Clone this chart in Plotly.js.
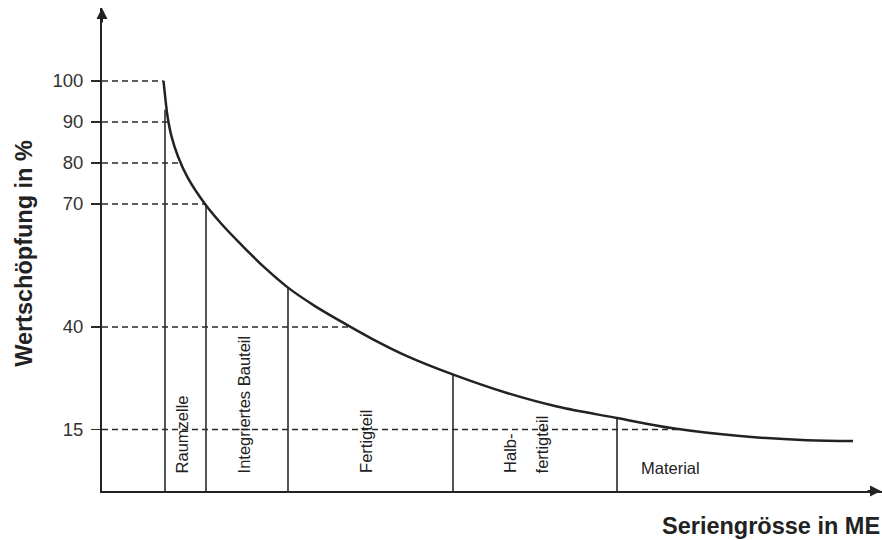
<!DOCTYPE html>
<html><head><meta charset="utf-8">
<script src="https://cdn.plot.ly/plotly-3.0.1.min.js"></script>
<style>html,body{margin:0;padding:0;background:#fff}</style>
</head><body>
<div id="chart" style="width:882px;height:540px"></div>
<script>
// Value-added curve (series size on x, arbitrary units; value added in %)
const curveX = [61.5, 63.5, 65.5, 69.5, 76, 86, 103, 120, 140, 163, 186, 213, 238, 271, 305, 350, 405, 455, 515, 571, 638, 705, 751];
const curveY = [100, 95.4, 91.4, 86.5, 81.6, 76.3, 70, 65, 59.9, 54.4, 49.6, 45.1, 41.5, 37, 32.9, 28.5, 23.9, 20.6, 17.8, 15.3, 13.4, 12.4, 12.2];
// Reference levels (y tick labels) and where each dashed line meets the curve
const tickValues = [100, 90, 80, 70, 40, 15];
const dashEndX = [61.5, 66.5, 79, 103, 248, 578];
// Boundaries between product stages and the curve height there
const boundaryX = [63, 104, 186, 351, 515];
const boundaryTop = [93, 69.8, 49.6, 28.5, 17.8];
// Stage labels
const stageLabels = ['Raumzelle', 'Integriertes Bauteil', 'Fertigteil', 'Halb-', 'fertigteil', 'Material'];
const yTitle = 'Wertschöpfung in %';
const xTitle = 'Seriengrösse in ME';

const FONT = 'Liberation Sans, Arial, Helvetica, sans-serif';
const INK = '#222';

const dX = [], dY = [];
tickValues.forEach((v, i) => { dX.push(0, dashEndX[i], null); dY.push(v, v, null); });
const bX = [], bY = [];
boundaryX.forEach((x, i) => { bX.push(x, x, null); bY.push(0, boundaryTop[i], null); });

const traces = [
  {x: dX, y: dY, mode: 'lines', line: {color: '#2a2a2a', width: 1.4, dash: '6px,4px'}, hoverinfo: 'skip', showlegend: false},
  {x: bX, y: bY, mode: 'lines', line: {color: '#2a2a2a', width: 1.6}, hoverinfo: 'skip', showlegend: false},
  {x: curveX, y: curveY, mode: 'lines', line: {color: INK, width: 2.5, shape: 'spline', smoothing: 1}, hoverinfo: 'skip', showlegend: false}
];

const labelPos = [
  {x: 80, y: 3.8, a: -90},
  {x: 142, y: 3.8, a: -90},
  {x: 264, y: 3.8, a: -90},
  {x: 408, y: 3.8, a: -90},
  {x: 440, y: 3.8, a: -90},
  {x: 568, y: 5.6, a: 0}
];
const annotations = stageLabels.map((t, i) => ({
  text: t, x: labelPos[i].x, y: labelPos[i].y, xref: 'x', yref: 'y',
  textangle: labelPos[i].a, showarrow: false,
  xanchor: 'center', yanchor: labelPos[i].a ? 'bottom' : 'middle',
  font: {family: FONT, size: 16.5, color: INK}
}));
annotations.push(
  {text: '<b>' + yTitle + '</b>', xref: 'paper', yref: 'paper', x: -0.1, y: 0.491,
   xanchor: 'center', yanchor: 'middle', textangle: -90, showarrow: false,
   font: {family: FONT, size: 23.5, color: INK}},
  {text: '<b>' + xTitle + '</b>', xref: 'paper', yref: 'paper', x: 1, y: 0, yshift: -35,
   xanchor: 'right', yanchor: 'middle', showarrow: false,
   font: {family: FONT, size: 23.5, color: INK}},
  {text: '', xref: 'paper', yref: 'paper', x: 0, y: 1, ax: 0, ay: 16, showarrow: true,
   arrowhead: 2, arrowsize: 1.1, arrowwidth: 2, arrowcolor: INK, standoff: 0},
  {text: '', xref: 'paper', yref: 'paper', x: 1, y: 0, ax: -16, ay: 0, showarrow: true,
   arrowhead: 2, arrowsize: 1.1, arrowwidth: 2, arrowcolor: INK, standoff: 0}
);

const layout = {
  width: 882, height: 540,
  margin: {l: 102, r: 0, t: 8, b: 49},
  paper_bgcolor: '#fff', plot_bgcolor: '#fff',
  font: {family: FONT, color: INK},
  xaxis: {range: [0, 780], showgrid: false, zeroline: false, showticklabels: false, ticks: '',
          showline: true, linecolor: INK, linewidth: 2, fixedrange: true},
  yaxis: {range: [0, 117.8], showgrid: false, zeroline: false, tickmode: 'array', tickvals: tickValues,
          ticktext: tickValues.map(String), ticks: 'outside', ticklen: 9, tickwidth: 1.4, tickcolor: '#2a2a2a',
          ticklabelstandoff: 4,
          tickfont: {family: FONT, size: 18.5, color: '#333'},
          showline: true, linecolor: INK, linewidth: 2, fixedrange: true},
  annotations: annotations,
  showlegend: false
};
Plotly.newPlot('chart', traces, layout, {staticPlot: true, displayModeBar: false});
</script>
</body></html>
